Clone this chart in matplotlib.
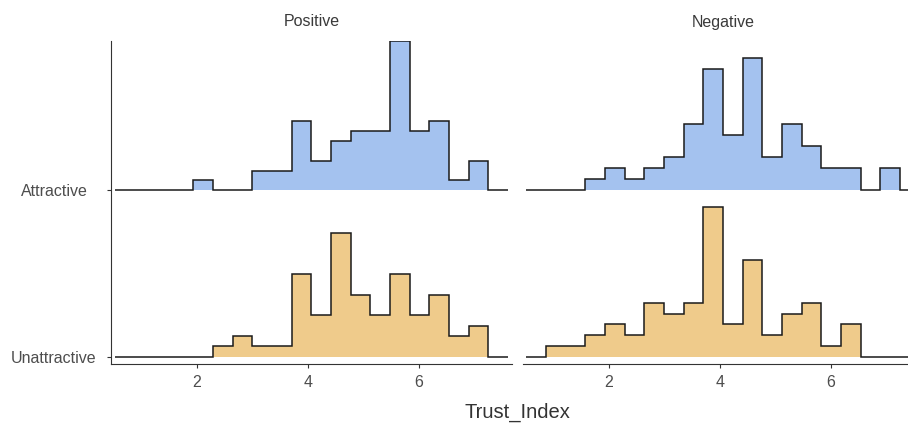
import matplotlib
matplotlib.use("Agg")
import matplotlib.pyplot as plt
import numpy as np

plt.rcParams['font.family'] = ['Liberation Sans', 'DejaVu Sans']

# histogram counts per bin (18 bins over the Trust_Index range)
bin_lo, bin_hi, n_bins = 0.87, 7.251, 18
conditions = ['Positive', 'Negative']
groups = ['Attractive', 'Unattractive']
counts = {
    ('Positive', 'Attractive'):   [0, 0, 0, 1, 0, 0, 2, 2, 7, 3, 5, 6, 6, 15, 6, 7, 1, 3],
    ('Positive', 'Unattractive'): [0, 0, 0, 0, 1, 2, 1, 1, 8, 4, 12, 6, 4, 8, 4, 6, 2, 3],
    ('Negative', 'Attractive'):   [0, 0, 1, 2, 1, 2, 3, 6, 11, 5, 12, 3, 6, 4, 2, 2, 0, 2],
    ('Negative', 'Unattractive'): [1, 1, 2, 3, 2, 5, 4, 5, 14, 3, 9, 2, 4, 5, 1, 3, 0, 0],
}
fills = {'Attractive': '#A4C2EF', 'Unattractive': '#EFCB8B'}
group_y = {'Attractive': 2, 'Unattractive': 1}
ridge_scale = 0.9

edges = np.linspace(bin_lo, bin_hi, n_bins + 1)
w = edges[1] - edges[0]
pad_edges = np.concatenate([[edges[0] - w], edges, [edges[-1] + w]])

fig = plt.figure(figsize=(9.08, 4.25), dpi=100)
ax_w = 400.7 / 908
ax_b = (425 - 364) / 425
ax_h = 323 / 425
axes = [fig.add_axes([111 / 908, ax_b, ax_w, ax_h]),
        fig.add_axes([522.7 / 908, ax_b, ax_w, ax_h])]

for ax, cond in zip(axes, conditions):
    dens = {g: np.array(counts[(cond, g)]) / sum(counts[(cond, g)]) for g in groups}
    top = max(d.max() for d in dens.values())
    for g in groups:
        y0 = group_y[g]
        h = np.concatenate([[0], dens[g], [0]]) / top * ridge_scale
        ax.stairs(y0 + h, pad_edges, baseline=y0, fill=True,
                  color=fills[g], lw=0, zorder=2)
        ax.stairs(y0 + h, pad_edges, baseline=y0, fill=False,
                  color='#1a1a1a', lw=1.1, zorder=3)

    ax.set_xlim(0.45, 7.67)
    ax.set_ylim(0.955, 2.9)
    ax.set_xticks([2, 4, 6])
    ax.tick_params(axis='x', length=3, width=0.8, color='#333333',
                   labelsize=11.5, labelcolor='#4D4D4D', pad=5)
    for s in ['top', 'right']:
        ax.spines[s].set_visible(False)
    ax.spines['bottom'].set_color('#333333')
    ax.spines['bottom'].set_linewidth(0.8)
    ax.text(0.5, 1 + 19 / 323, cond, transform=ax.transAxes, ha='center',
            va='center', fontsize=11.5, color='#3a3a3a')

axes[0].set_yticks([group_y[g] for g in groups])
axes[0].set_yticklabels(groups)
axes[0].tick_params(axis='y', length=3, width=0.8, color='#333333',
                    labelsize=11.5, labelcolor='#4D4D4D', pad=38)
for lab in axes[0].get_yticklabels():
    lab.set_ha('center')
axes[0].spines['left'].set_color('#333333')
axes[0].spines['left'].set_linewidth(0.8)

axes[1].spines['left'].set_visible(False)
axes[1].set_yticks([])

fig.text(517 / 908, 1 - 412 / 425, 'Trust_Index', ha='center', va='center',
         fontsize=14.5, color='#333333')

fig.savefig('out.png', dpi=100)
